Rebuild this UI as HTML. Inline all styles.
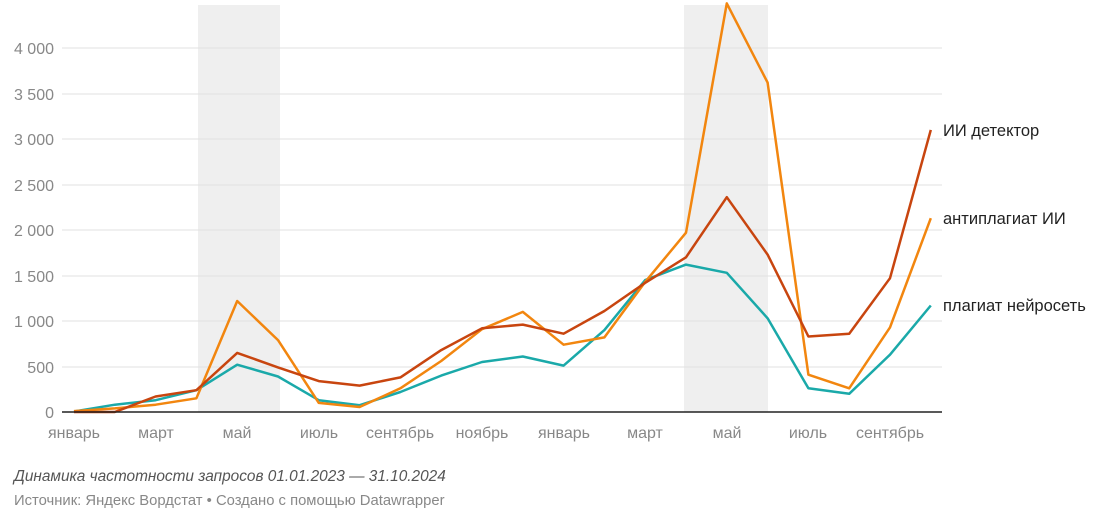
<!DOCTYPE html>
<html><head><meta charset="utf-8"><style>
body{margin:0;background:#fff;width:1100px;height:514px;overflow:hidden;font-family:"Liberation Sans",sans-serif}
</style></head><body>
<svg width="1100" height="514" xmlns="http://www.w3.org/2000/svg" font-family="Liberation Sans, sans-serif">
<rect x="198" y="5" width="82" height="407" fill="#efefef"/>
<rect x="684" y="5" width="84" height="407" fill="#efefef"/>
<g stroke="#e2e2e2" stroke-width="1">
<line x1="62" x2="942" y1="48" y2="48"/><line x1="62" x2="942" y1="94" y2="94"/>
<line x1="62" x2="942" y1="139" y2="139"/><line x1="62" x2="942" y1="185" y2="185"/>
<line x1="62" x2="942" y1="230" y2="230"/><line x1="62" x2="942" y1="276" y2="276"/>
<line x1="62" x2="942" y1="321" y2="321"/><line x1="62" x2="942" y1="367" y2="367"/>
</g>
<g fill="#888" font-size="16" text-anchor="end">
<text x="54" y="54">4 000</text><text x="54" y="100">3 500</text><text x="54" y="145">3 000</text>
<text x="54" y="191">2 500</text><text x="54" y="236">2 000</text><text x="54" y="282">1 500</text>
<text x="54" y="327">1 000</text><text x="54" y="373">500</text><text x="54" y="418">0</text>
</g>
<g fill="none" stroke-width="2.5" stroke-linejoin="round">
<polyline stroke="#1aa9a9" points="74,411.5 114.8,404.7 155.6,400.2 196.4,390.2 237.2,364.7 278,376.5 318.8,400.2 359.6,405.2 400.4,392 441.2,375.6 482,362 522.8,356.5 563.6,365.6 604.4,330.1 645.2,280.1 686,264.6 726.8,272.8 767.6,318.3 808.4,388.3 849.2,393.8 890,354.7 930.8,305.5"/>
<polyline stroke="#f2860f" points="74,411.1 114.8,408.4 155.6,404.7 196.4,398.3 237.2,301 278,340.1 318.8,402.9 359.6,407 400.4,388.3 441.2,361 482,329.2 522.8,311.9 563.6,344.7 604.4,337.4 645.2,281.9 686,232.7 726.8,3.4 767.6,82.6 808.4,374.7 849.2,388.3 890,327.4 930.8,218.2"/>
<polyline stroke="#c8450f" points="74,412 114.8,412 155.6,396.5 196.4,390.2 237.2,352.9 278,367.4 318.8,381.1 359.6,385.6 400.4,377.4 441.2,350.1 482,328.3 522.8,324.6 563.6,333.7 604.4,311 645.2,282.8 686,257.3 726.8,197.2 767.6,254.6 808.4,336.5 849.2,333.7 890,278.2 930.8,129.9"/>
</g>
<line x1="62" x2="942" y1="412" y2="412" stroke="#222" stroke-width="1.5"/>
<g fill="#888" font-size="16" text-anchor="middle">
<text x="74" y="438">январь</text><text x="156" y="438">март</text><text x="237" y="438">май</text>
<text x="319" y="438">июль</text><text x="400" y="438">сентябрь</text><text x="482" y="438">ноябрь</text>
<text x="564" y="438">январь</text><text x="645" y="438">март</text><text x="727" y="438">май</text>
<text x="808" y="438">июль</text><text x="890" y="438">сентябрь</text>
</g>
<g fill="#222" font-size="16.5">
<text x="943" y="136">ИИ детектор</text>
<text x="943" y="224">антиплагиат ИИ</text>
<text x="943" y="311">плагиат нейросеть</text>
</g>
<text x="14" y="481" font-size="15.4" font-style="italic" fill="#555">Динамика частотности запросов 01.01.2023 — 31.10.2024</text>
<text x="14" y="505" font-size="14.8" fill="#888">Источник: Яндекс Вордстат • Создано с помощью Datawrapper</text>
</svg>
</body></html>
